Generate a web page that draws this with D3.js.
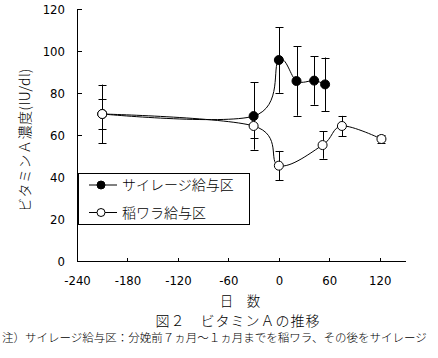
<!DOCTYPE html>
<html>
<head>
<meta charset="utf-8">
<script src="https://cdn.jsdelivr.net/npm/d3@7"></script>
<style>
  body { margin: 0; background: #fff; }
  svg { display: block; }
  text { font-family: "Noto Sans CJK JP", sans-serif; font-weight: 300; fill: #000; }
  .axis path, .axis line { stroke: #000; stroke-width: 1px; shape-rendering: crispEdges; }
  .axis text { font-family: "DejaVu Sans Condensed", "DejaVu Sans", sans-serif; font-weight: normal; font-size: 13px; }
</style>
</head>
<body>
<script>
// days relative to calving, vitamin A (IU/dl), SD
let silageDays = [-210, -30, 0, 21, 42, 55];
let silageVals = [70, 69, 95.7, 85.7, 85.9, 84.1];
let silageSd = [14, 16, 15.6, 16.5, 11.5, 12.8];

let strawDays = [-210, -30, 0, 52, 75, 122];
let strawVals = [70, 64.3, 45.4, 55.2, 64.3, 58.1];
let strawSd = [7, 5.5, 7, 6.5, 4.8, 2];

let xTicks = [-240, -180, -120, -60, 0, 60, 120];
let yTicks = [0, 20, 40, 60, 80, 100, 120];
let seriesNames = ["サイレージ給与区", "稲ワラ給与区"];

let W = 438, H = 358;
let svg = d3.select("body").append("svg")
  .attr("width", W)
  .attr("height", H);

svg.append("rect").attr("width", W).attr("height", H).attr("fill", "#fff");

let xScale = d3.scaleLinear().domain([-240, 150]).range([77, 405]);
let yScale = d3.scaleLinear().domain([0, 120]).range([261, 9]);

let plain = function(d){ return String(d); };
let xAxis = d3.axisBottom(xScale).tickValues(xTicks).tickFormat(plain)
  .tickSizeInner(-3).tickSizeOuter(0).tickPadding(15);
let yAxis = d3.axisLeft(yScale).tickValues(yTicks).tickFormat(plain)
  .tickSizeInner(-5).tickSizeOuter(0).tickPadding(12);

svg.append("g")
  .attr("class", "x axis")
  .attr("transform", "translate(0," + yScale(0) + ")")
  .call(xAxis);

svg.append("g")
  .attr("class", "y axis")
  .attr("transform", "translate(" + xScale(-240) + ",0)")
  .call(yAxis);

function toPoints(days, vals, sd) {
  return days.map(function(d, i){ return {x: d, y: vals[i], sd: sd[i]}; });
}
let series = [
  {name: seriesNames[0], fill: "#000", pts: toPoints(silageDays, silageVals, silageSd)},
  {name: seriesNames[1], fill: "#fff", pts: toPoints(strawDays, strawVals, strawSd)}
];

// error bars
let cap = 4;
series.forEach(function(s){
  let g = svg.append("g").attr("stroke", "#000").attr("stroke-width", 1);
  s.pts.forEach(function(p){
    let cx = Math.round(xScale(p.x)) + 0.5;
    let top = yScale(p.y + p.sd), bot = yScale(p.y - p.sd);
    g.append("line").attr("x1", cx).attr("x2", cx).attr("y1", top).attr("y2", bot);
    g.append("line").attr("x1", cx - cap).attr("x2", cx + cap).attr("y1", Math.round(top) + 0.5).attr("y2", Math.round(top) + 0.5);
    g.append("line").attr("x1", cx - cap).attr("x2", cx + cap).attr("y1", Math.round(bot) + 0.5).attr("y2", Math.round(bot) + 0.5);
  });
});

// smoothed lines
let line = d3.line()
  .x(function(d){ return xScale(d.x); })
  .y(function(d){ return yScale(d.y); })
  .curve(d3.curveCardinal.tension(0));

series.forEach(function(s){
  svg.append("path")
    .datum(s.pts)
    .attr("d", line)
    .attr("fill", "none")
    .attr("stroke", "#000")
    .attr("stroke-width", 1);
});

// markers
series.forEach(function(s){
  svg.append("g").selectAll("circle")
    .data(s.pts)
    .enter()
    .append("circle")
    .attr("r", 4.5)
    .attr("cx", function(d){ return xScale(d.x); })
    .attr("cy", function(d){ return yScale(d.y); })
    .attr("fill", s.fill)
    .attr("stroke", "#000")
    .attr("stroke-width", 1);
});

// legend
let legend = svg.append("g");
legend.append("rect")
  .attr("x", 78.5).attr("y", 173.5)
  .attr("width", 171).attr("height", 51)
  .attr("fill", "#fff").attr("stroke", "#000");
series.forEach(function(s, i){
  let ly = 185 + i * 27.5;
  legend.append("line").attr("x1", 89).attr("x2", 117).attr("y1", ly).attr("y2", ly).attr("stroke", "#000");
  legend.append("circle").attr("cx", 101).attr("cy", ly).attr("r", 4)
    .attr("fill", s.fill).attr("stroke", "#000");
  legend.append("text").attr("x", 122).attr("y", ly + 5)
    .style("font-size", "14px")
    .text(s.name);
});

// axis titles
svg.append("text")
  .attr("transform", "translate(30,140) rotate(-90)")
  .style("text-anchor", "middle")
  .style("font-size", "14px")
  .style("letter-spacing", "0.5px")
  .text("ビタミンＡ濃度(IU/dl)");

svg.append("text")
  .attr("x", 240).attr("y", 305.5)
  .style("text-anchor", "middle")
  .style("font-size", "13.5px")
  .text("日　数");

svg.append("text")
  .attr("x", 238).attr("y", 326)
  .style("text-anchor", "middle")
  .style("font-size", "14px")
  .style("letter-spacing", "1px")
  .text("図２　ビタミンＡの推移");

svg.append("text")
  .attr("x", 2).attr("y", 342)
  .style("font-size", "11.5px")
  .text("注）サイレージ給与区：分娩前７ヵ月～１ヵ月までを稲ワラ、その後をサイレージ");
</script>
</body>
</html>
